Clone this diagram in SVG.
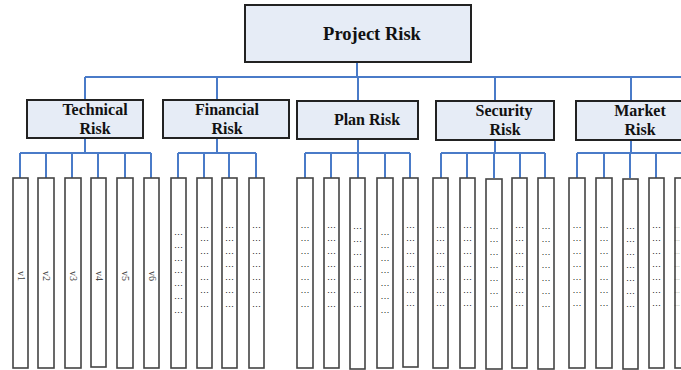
<svg xmlns="http://www.w3.org/2000/svg" width="681" height="370" viewBox="0 0 681 370">
<style>
.box{fill:#e6ecf6;stroke:#222;stroke-width:2}
.leaf{fill:#fff;stroke:#444;stroke-width:1.6}
.t{font-family:"Liberation Serif","Times New Roman",serif;font-weight:bold;fill:#111;text-anchor:middle}
.c{stroke:#4a7bc8;stroke-width:2;fill:none}
.d{font-family:"Liberation Sans",Arial,sans-serif;font-size:9.5px;fill:#222;text-anchor:middle}
.e{font-family:"Liberation Sans",Arial,sans-serif;font-size:6px;fill:#222;text-anchor:end}
.v{font-family:"Liberation Serif","Times New Roman",serif;font-size:10px;fill:#444;text-anchor:middle}
</style>
<rect width="681" height="370" fill="#fff"/>
<g id="connectors" class="c">
<path d="M357 62V77M85 77H681M85 77V100M217 77V100M358 77V101M495 77V101M631 77V101"/>
<path d="M85 138V153M20 153H151M20 153V178M46 153V178M72 153V178M98 153V178M125 153V178M151 153V178"/>
<path d="M217 138V153M178 153H256M178 153V178M204 153V178M229 153V178M256 153V178"/>
<path d="M358 139V153M305 153H410M305 153V178M331 153V178M358 153V178M385 153V178M410 153V178"/>
<path d="M495 140V153M441 153H545M441 153V178M467 153V178M494 153V178M520 153V178M545 153V178"/>
<path d="M631 140V153M577 153H681M577 153V178M604 153V178M630 153V178M656 153V178M682 153V178"/>
</g>
<g id="project-risk"><rect class="box" x="245" y="5" width="226" height="57"/><text class="t" x="372" y="40" font-size="18.5">Project Risk</text></g>
<g id="technical-risk"><rect class="box" x="27" y="100" width="116" height="38"/><text class="t" x="95" y="115" font-size="16">Technical</text><text class="t" x="95" y="134" font-size="16">Risk</text></g>
<g id="financial-risk"><rect class="box" x="163" y="100" width="126" height="38"/><text class="t" x="227" y="115" font-size="16">Financial</text><text class="t" x="227" y="134" font-size="16">Risk</text></g>
<g id="plan-risk"><rect class="box" x="297" y="101" width="121" height="38"/><text class="t" x="367" y="125" font-size="16">Plan Risk</text></g>
<g id="security-risk"><rect class="box" x="436" y="101" width="118" height="39"/><text class="t" x="504" y="116" font-size="16">Security</text><text class="t" x="505" y="135" font-size="16">Risk</text></g>
<g id="market-risk"><rect class="box" x="576" y="101" width="112" height="39"/><text class="t" x="640" y="116" font-size="16">Market</text><text class="t" x="640" y="135" font-size="16">Risk</text></g>
<g id="technical-items">
<rect class="leaf" x="13" y="178" width="15" height="190"/><text class="v" transform="translate(20.5 276) rotate(90)" y="3">v1</text>
<rect class="leaf" x="38" y="178" width="16" height="190"/><text class="v" transform="translate(46 276) rotate(90)" y="3">v2</text>
<rect class="leaf" x="65" y="178" width="16" height="190"/><text class="v" transform="translate(73 276) rotate(90)" y="3">v3</text>
<rect class="leaf" x="91" y="178" width="15" height="189"/><text class="v" transform="translate(98.5 276) rotate(90)" y="3">v4</text>
<rect class="leaf" x="117" y="178" width="16" height="190"/><text class="v" transform="translate(125 276) rotate(90)" y="3">v5</text>
<rect class="leaf" x="144" y="178" width="15" height="190"/><text class="v" transform="translate(151.5 276) rotate(90)" y="3">v6</text>
</g>
<g id="financial-items">
<rect class="leaf" x="171" y="178" width="15" height="190"/>
<rect class="leaf" x="197" y="178" width="15" height="190"/>
<rect class="leaf" x="222" y="178" width="15" height="190"/>
<rect class="leaf" x="249" y="178" width="15" height="190"/>
<g class="d"><text x="178.5" y="235">…</text><text x="178.5" y="248">…</text><text x="178.5" y="261">…</text><text x="178.5" y="273">…</text><text x="178.5" y="286">…</text><text x="178.5" y="299">…</text><text x="178.5" y="313">…</text></g>
<g class="d"><text x="204.5" y="228">…</text><text x="204.5" y="241">…</text><text x="204.5" y="254">…</text><text x="204.5" y="267">…</text><text x="204.5" y="280">…</text><text x="204.5" y="293">…</text><text x="204.5" y="307">…</text></g>
<g class="d"><text x="229.5" y="228">…</text><text x="229.5" y="241">…</text><text x="229.5" y="254">…</text><text x="229.5" y="267">…</text><text x="229.5" y="280">…</text><text x="229.5" y="293">…</text><text x="229.5" y="307">…</text></g>
<g class="d"><text x="256.5" y="228">…</text><text x="256.5" y="241">…</text><text x="256.5" y="254">…</text><text x="256.5" y="267">…</text><text x="256.5" y="280">…</text><text x="256.5" y="293">…</text><text x="256.5" y="307">…</text></g>
</g>
<g id="plan-items">
<rect class="leaf" x="297" y="178" width="16" height="190"/>
<rect class="leaf" x="324" y="178" width="15" height="190"/>
<rect class="leaf" x="350" y="178" width="15" height="191"/>
<rect class="leaf" x="377" y="178" width="16" height="190"/>
<rect class="leaf" x="403" y="178" width="15" height="189"/>
<g class="d"><text x="305" y="228">…</text><text x="305" y="241">…</text><text x="305" y="254">…</text><text x="305" y="267">…</text><text x="305" y="280">…</text><text x="305" y="293">…</text><text x="305" y="307">…</text></g>
<g class="d"><text x="331.5" y="228">…</text><text x="331.5" y="241">…</text><text x="331.5" y="254">…</text><text x="331.5" y="267">…</text><text x="331.5" y="280">…</text><text x="331.5" y="293">…</text><text x="331.5" y="307">…</text></g>
<g class="d"><text x="357.5" y="229">…</text><text x="357.5" y="242">…</text><text x="357.5" y="255">…</text><text x="357.5" y="267">…</text><text x="357.5" y="280">…</text><text x="357.5" y="293">…</text><text x="357.5" y="307">…</text></g>
<g class="d"><text x="385" y="235">…</text><text x="385" y="248">…</text><text x="385" y="261">…</text><text x="385" y="273">…</text><text x="385" y="286">…</text><text x="385" y="299">…</text><text x="385" y="313">…</text></g>
<g class="d"><text x="410.5" y="228">…</text><text x="410.5" y="241">…</text><text x="410.5" y="254">…</text><text x="410.5" y="267">…</text><text x="410.5" y="280">…</text><text x="410.5" y="293">…</text><text x="410.5" y="306">…</text></g>
</g>
<g id="security-items">
<rect class="leaf" x="433" y="178" width="15" height="190"/>
<rect class="leaf" x="460" y="178" width="15" height="190"/>
<rect class="leaf" x="486" y="179" width="16" height="190"/>
<rect class="leaf" x="512" y="178" width="15" height="190"/>
<rect class="leaf" x="538" y="178" width="16" height="191"/>
<g class="d"><text x="440.5" y="228">…</text><text x="440.5" y="241">…</text><text x="440.5" y="254">…</text><text x="440.5" y="267">…</text><text x="440.5" y="280">…</text><text x="440.5" y="293">…</text><text x="440.5" y="306">…</text></g>
<g class="d"><text x="467.5" y="228">…</text><text x="467.5" y="241">…</text><text x="467.5" y="254">…</text><text x="467.5" y="267">…</text><text x="467.5" y="280">…</text><text x="467.5" y="293">…</text><text x="467.5" y="306">…</text></g>
<g class="d"><text x="494" y="229">…</text><text x="494" y="242">…</text><text x="494" y="255">…</text><text x="494" y="268">…</text><text x="494" y="281">…</text><text x="494" y="294">…</text><text x="494" y="307">…</text></g>
<g class="d"><text x="519.5" y="228">…</text><text x="519.5" y="241">…</text><text x="519.5" y="254">…</text><text x="519.5" y="267">…</text><text x="519.5" y="280">…</text><text x="519.5" y="293">…</text><text x="519.5" y="306">…</text></g>
<g class="d"><text x="546" y="229">…</text><text x="546" y="242">…</text><text x="546" y="255">…</text><text x="546" y="268">…</text><text x="546" y="281">…</text><text x="546" y="294">…</text><text x="546" y="307">…</text></g>
</g>
<g id="market-items">
<rect class="leaf" x="569" y="178" width="16" height="190"/>
<rect class="leaf" x="596" y="178" width="16" height="190"/>
<rect class="leaf" x="623" y="179" width="15" height="190"/>
<rect class="leaf" x="649" y="178" width="15" height="190"/>
<rect class="leaf" x="675" y="178" width="16" height="190"/>
<g class="d"><text x="577" y="228">…</text><text x="577" y="241">…</text><text x="577" y="254">…</text><text x="577" y="267">…</text><text x="577" y="280">…</text><text x="577" y="293">…</text><text x="577" y="306">…</text></g>
<g class="d"><text x="604" y="228">…</text><text x="604" y="241">…</text><text x="604" y="254">…</text><text x="604" y="267">…</text><text x="604" y="280">…</text><text x="604" y="293">…</text><text x="604" y="306">…</text></g>
<g class="d"><text x="630.5" y="229">…</text><text x="630.5" y="242">…</text><text x="630.5" y="255">…</text><text x="630.5" y="268">…</text><text x="630.5" y="281">…</text><text x="630.5" y="294">…</text><text x="630.5" y="307">…</text></g>
<g class="d"><text x="656.5" y="228">…</text><text x="656.5" y="241">…</text><text x="656.5" y="254">…</text><text x="656.5" y="267">…</text><text x="656.5" y="280">…</text><text x="656.5" y="293">…</text><text x="656.5" y="306">…</text></g>
<g class="e"><text x="680" y="228">…</text><text x="680" y="241">…</text><text x="680" y="254">…</text><text x="680" y="267">…</text><text x="680" y="280">…</text><text x="680" y="293">…</text><text x="680" y="306">…</text></g>
</g>
</svg>
